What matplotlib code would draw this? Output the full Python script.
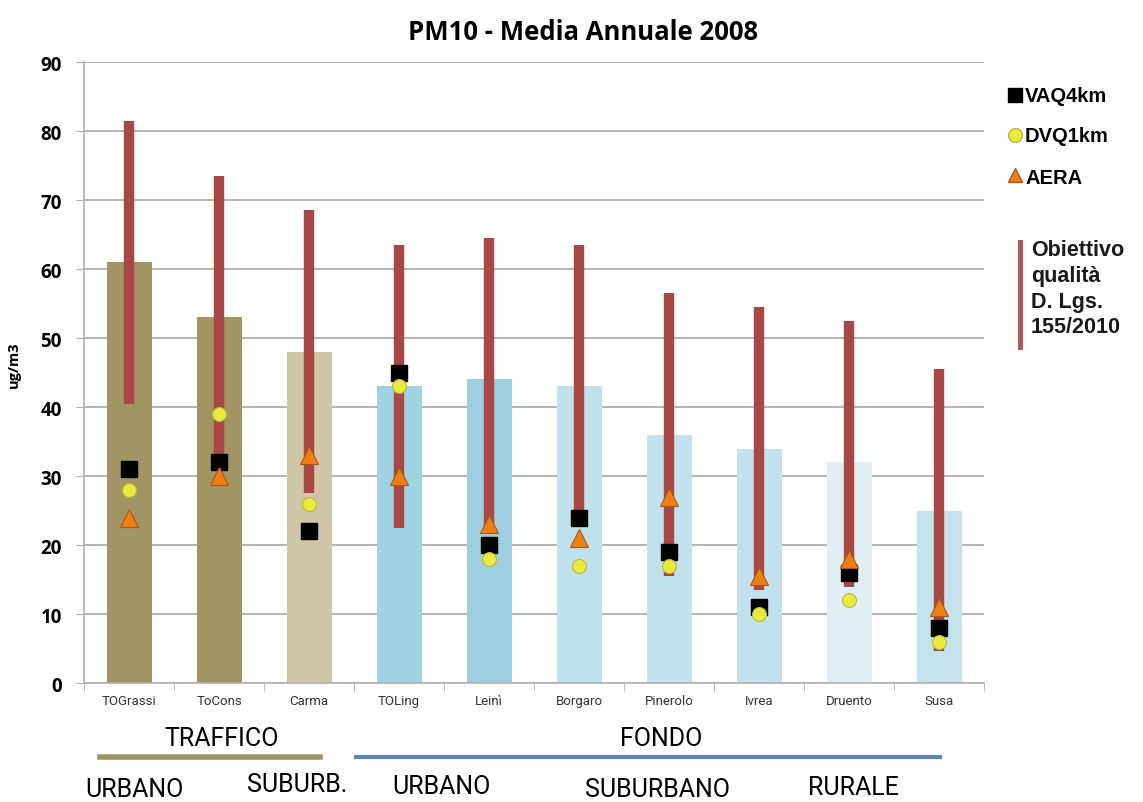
import matplotlib
matplotlib.use("Agg")
import matplotlib.pyplot as plt
from matplotlib.lines import Line2D
import numpy as np

stations = ["TOGrassi", "ToCons", "Carma", "TOLing", "Leinì", "Borgaro",
            "Pinerolo", "Ivrea", "Druento", "Susa"]
measured = [61, 53, 48, 43, 44, 43, 36, 34, 32, 25]
bar_colors = ["#a09563", "#a09563", "#cec6a6", "#9fd2e3", "#9dcfe1",
              "#bfe1eb", "#c1e2ec", "#c1e2ec", "#dfeff5", "#c3e2eb"]
range_low = [40.5, 31, 27.5, 22.5, 22.5, 24, 15.5, 13.5, 14, 4.7]
range_high = [81.5, 73.5, 68.5, 63.5, 64.5, 63.5, 56.5, 54.5, 52.5, 45.5]
vaq4km = [31, 32, 22, 45, 20, 24, 19, 11, 16, 8]
dvq1km = [28, 39, 26, 43, 18, 17, 17, 10, 12, 6]
aera = [24, 30, 33, 30, 23, 21, 27, 15.5, 18, 11]

narrow = ["Roboto", "DejaVu Sans"]
bold_font = ["Open Sans", "DejaVu Sans"]
legend_font = ["Liberation Sans", "DejaVu Sans"]

fig = plt.figure(figsize=(11.43, 8.03), dpi=100)
ax = fig.add_axes([0.0735, 0.148, 0.7875, 0.7735])

x = np.arange(len(stations))
ax.bar(x, measured, width=0.5, color=bar_colors, zorder=2)
ax.vlines(x, range_low, range_high, color="#a94745", linewidth=7.5, zorder=3)
ax.plot(x, vaq4km, "s", ms=11, color="black", zorder=4)
ax.plot(x, aera, "^", ms=13, color="#f07f10", markeredgecolor="#a8581a", mew=0.8, zorder=5)
ax.plot(x, dvq1km, "o", ms=10, color="#eaea38", markeredgecolor="#b8b848", mew=0.8, zorder=6)

ax.set_xlim(-0.5, len(stations) - 0.5)
ax.set_ylim(0, 90)
ax.set_yticks(range(0, 91, 10))
ax.yaxis.grid(True, color="#a8a8a8", linewidth=1.2, zorder=0)
ax.set_axisbelow(True)
for s in ["top", "right"]:
    ax.spines[s].set_visible(False)
ax.spines["left"].set_color("#b0b0b0")
ax.spines["bottom"].set_color("#b0b0b0")
ax.spines["left"].set_linewidth(1.2)
ax.spines["bottom"].set_linewidth(1.2)

ax.set_xticks(x)
ax.set_xticklabels(stations, fontsize=9.5, family=narrow, color="#333333")
ax.set_xticks(np.arange(-0.5, len(stations)), minor=True)
ax.tick_params(axis="x", which="major", length=0, pad=8)
ax.tick_params(axis="x", which="minor", length=6, color="#b0b0b0")
ax.tick_params(axis="y", length=6, color="#b0b0b0", pad=10)
for lbl in ax.get_yticklabels():
    lbl.set_fontweight("bold")
    lbl.set_fontsize(13.5)
    lbl.set_family(bold_font)
ax.set_ylabel("ug/m3", fontsize=10.5, fontweight="bold", family=bold_font)
ax.yaxis.set_label_coords(-0.07, 0.515)

W, H = 1143, 803
def fx(px): return px / W
def fy(py): return 1 - py / H

fig.text(fx(583), fy(32), "PM10 - Media Annuale 2008", fontsize=18.5, fontweight="bold",
         family=bold_font, ha="center", va="center")

# legend
fig.add_artist(Line2D([fx(1015)], [fy(96)], marker="s", ms=10, color="black"))
fig.add_artist(Line2D([fx(1015)], [fy(136)], marker="o", ms=10, color="#eaea38",
                      markeredgecolor="#b8b848"))
fig.add_artist(Line2D([fx(1015)], [fy(176)], marker="^", ms=10, color="#f07f10",
                      markeredgecolor="#a8581a"))
for yy, t in [(97, "VAQ4km"), (137, "DVQ1km"), (178, "AERA")]:
    fig.text(fx(1025), fy(yy), t, fontsize=14.5, fontweight="bold", family=legend_font,
             va="center", ha="left")
fig.add_artist(Line2D([fx(1020), fx(1020)], [fy(243), fy(348)], color="#b05454", lw=3.5))
fig.text(fx(1031), fy(240), "Obiettivo\nqualità\nD. Lgs.\n155/2010", fontsize=15.5,
         fontweight="bold", family=legend_font, va="top", ha="left", linespacing=1.3,
         color="#1a1a1a")

# group labels below the axis
fig.text(fx(222), fy(739), "TRAFFICO", fontsize=18, family=narrow, ha="center", va="center")
fig.text(fx(661), fy(739), "FONDO", fontsize=18, family=narrow, ha="center", va="center")
fig.add_artist(Line2D([fx(100), fx(320)], [fy(758), fy(758)], color="#a09563", lw=4))
fig.add_artist(Line2D([fx(356), fx(940)], [fy(758), fy(758)], color="#5a85b8", lw=3))
for px, py, t in [(134, 790, "URBANO"), (297, 785, "SUBURB."), (441, 787, "URBANO"),
                  (657, 790, "SUBURBANO"), (853, 788, "RURALE")]:
    fig.text(fx(px), fy(py), t, fontsize=18, family=narrow, ha="center", va="center")

fig.savefig("out.png", dpi=100)
